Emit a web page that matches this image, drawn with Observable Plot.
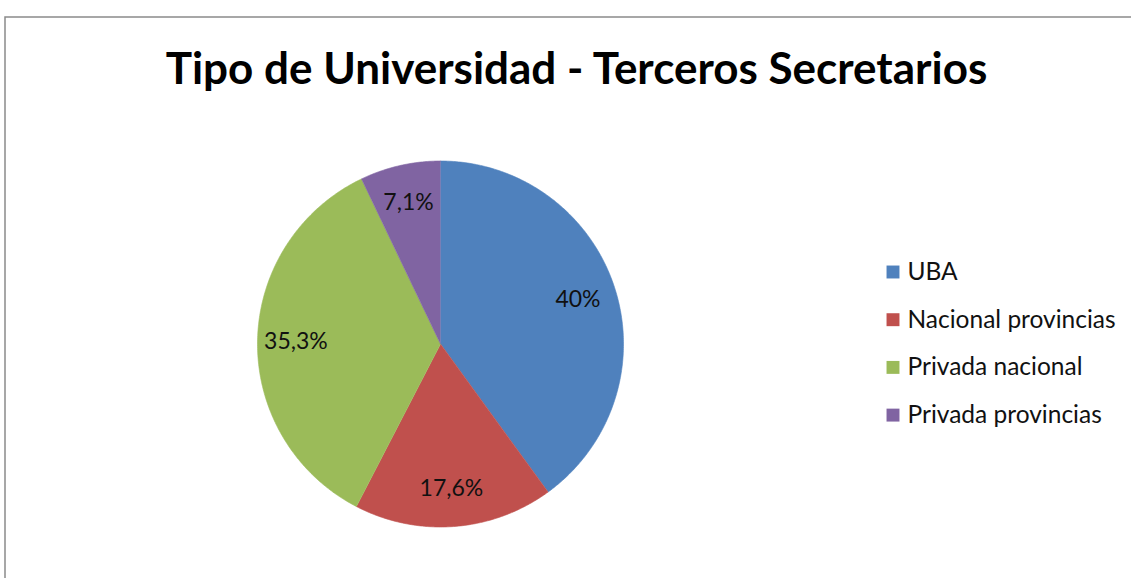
<!DOCTYPE html>
<html><head><meta charset="utf-8">
<script src="https://cdn.jsdelivr.net/npm/d3@7"></script>
<script src="https://cdn.jsdelivr.net/npm/@observablehq/plot@0.6"></script>
<style>html,body{margin:0;padding:0;overflow:hidden;background:#fff}</style>
</head><body><div id="chart"></div>
<script>
const title = "Tipo de Universidad - Terceros Secretarios";
const categories = ["UBA", "Nacional provincias", "Privada nacional", "Privada provincias"];
const values = [40, 17.6, 35.3, 7.1];
const labels = ["40%", "17,6%", "35,3%", "7,1%"];
const colors = ["#4F81BD", "#C0504D", "#9BBB59", "#8064A2"];

const W = 1131, H = 578, CX = 440, CY = 343.5, R = 183;
const px = v => (v - CX) / R, py = v => (CY - v) / R;

const total = d3.sum(values);
let acc = 0;
const slices = values.map((v, i) => {
  const a0 = acc / total * 2 * Math.PI; acc += v;
  const a1 = acc / total * 2 * Math.PI;
  return {cat: categories[i], a0, a1, label: labels[i], mid: (a0 + a1) / 2};
});
const pts = slices.flatMap(s => {
  const n = Math.max(2, Math.ceil((s.a1 - s.a0) / 0.01));
  const arr = [{cat: s.cat, x: 0, y: 0}];
  for (let k = 0; k <= n; k++) {
    const a = s.a0 + (s.a1 - s.a0) * k / n;
    arr.push({cat: s.cat, x: Math.sin(a), y: Math.cos(a)});
  }
  return arr;
});
const labelData = slices.map(s => ({label: s.label, x: 0.79 * Math.sin(s.mid), y: 0.79 * Math.cos(s.mid)}));
const legendData = categories.map((c, i) => ({cat: c, y: py(271.5 + i * 47.7)}));

const font = "Lato, 'Open Sans', sans-serif";
const chart = Plot.plot({
  width: W, height: H,
  margin: 0,
  x: {domain: [px(0), px(W)], range: [0, W], axis: null},
  y: {domain: [py(H), py(0)], range: [H, 0], axis: null},
  color: {domain: categories, range: colors},
  style: {fontFamily: font, background: "#fff"},
  marks: [
    Plot.frame({stroke: "#8a8a8a", strokeWidth: 1.5, insetLeft: 4.5, insetTop: 16.5, insetRight: -10, insetBottom: -10}),
    Plot.line(pts, {x: "x", y: "y", z: "cat", fill: "cat", stroke: "cat", strokeWidth: 0.6, curve: "linear"}),
    Plot.text(labelData, {x: "x", y: "y", text: "label", fontSize: 23, fill: "#111", textAnchor: "middle", lineAnchor: "middle"}),
    Plot.text([title], {x: px(576), y: py(69), text: d => d, fontSize: 44, fontWeight: "bold", fill: "#000", textAnchor: "middle", lineAnchor: "middle", ariaLabel: "title"}),
    Plot.dot(legendData, {x: px(892.5), y: "y", fill: "cat", symbol: "square", r: 7.3, stroke: null}),
    Plot.text(legendData, {x: px(907), y: "y", text: "cat", fontSize: 24.5, fill: "#111", textAnchor: "start", lineAnchor: "middle"})
  ]
});
document.getElementById("chart").appendChild(chart);
const t = chart.querySelector('g[aria-label="title"] text');
if (t) { t.setAttribute("textLength", 832); t.setAttribute("lengthAdjust", "spacingAndGlyphs"); }
</script>
</body></html>
